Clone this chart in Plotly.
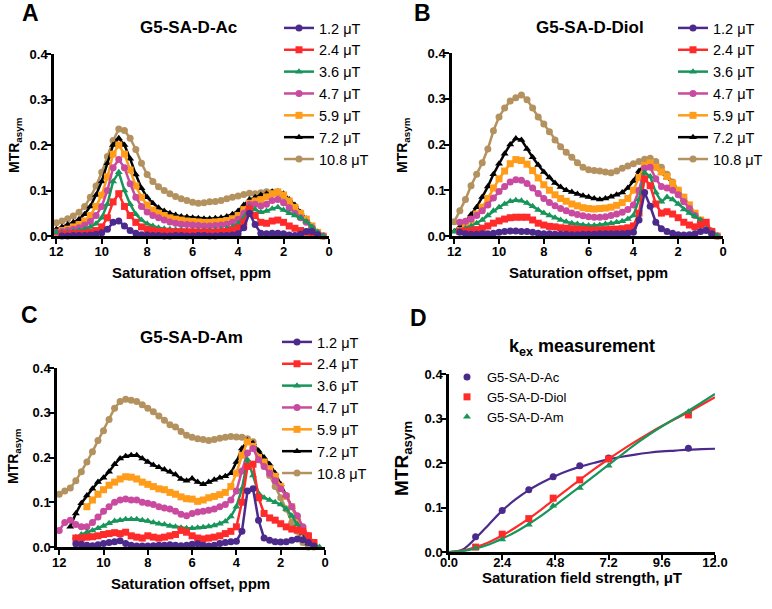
import plotly.graph_objects as go

W, H = 772, 609

offsets = [12.0, 11.75, 11.5, 11.25, 11.0, 10.75, 10.5, 10.25,
           10.0, 9.75, 9.5, 9.25, 9.0, 8.75, 8.5, 8.25,
           8.0, 7.75, 7.5, 7.25, 7.0, 6.75, 6.5, 6.25,
           6.0, 5.75, 5.5, 5.25, 5.0, 4.75, 4.5, 4.25,
           4.0, 3.75, 3.5, 3.25, 3.0, 2.75, 2.5, 2.25,
           2.0, 1.75, 1.5, 1.25, 1.0, 0.75, 0.5, 0.25]

field_labels = ["1.2 μT", "2.4 μT", "3.6 μT", "4.7 μT", "5.9 μT", "7.2 μT", "10.8 μT"]

# ---------------- Panel A: G5-SA-D-Ac ----------------
A_1p2 = [None, 0.000, 0.000, 0.001, 0.001, 0.001, 0.002, 0.004,
         0.007, 0.015, 0.030, 0.033, 0.022, 0.012, 0.006, 0.003,
         0.002, 0.001, 0.001, 0.000, 0.000, 0.001, 0.001, 0.000,
         0.000, 0.001, 0.001, 0.000, 0.000, 0.001, 0.001, 0.002,
         0.005, 0.018, 0.050, 0.025, 0.006, 0.005, 0.006, 0.006,
         0.005, 0.002, 0.001, 0.004, 0.010, 0.010, 0.003, None]
A_2p4 = [None, 0.004, 0.004, 0.005, 0.005, 0.006, 0.008, 0.012,
         0.020, 0.040, 0.075, 0.093, 0.065, 0.045, 0.030, 0.020,
         0.015, 0.012, 0.010, 0.010, 0.009, 0.009, 0.009, 0.009,
         0.009, 0.008, 0.008, 0.008, 0.008, 0.009, 0.010, 0.013,
         0.018, 0.030, 0.060, 0.045, 0.030, 0.028, 0.033, 0.035,
         0.030, 0.022, 0.017, 0.012, 0.008, 0.004, 0.001, None]
A_3p6 = [0.008, 0.008, 0.009, 0.010, 0.012, 0.015, 0.020, 0.027,
         0.040, 0.070, 0.120, 0.140, 0.100, 0.070, 0.048, 0.035,
         0.027, 0.022, 0.018, 0.016, 0.015, 0.014, 0.013, 0.012,
         0.012, 0.012, 0.012, 0.012, 0.013, 0.014, 0.016, 0.020,
         0.027, 0.040, 0.065, 0.058, 0.052, 0.055, 0.060, 0.063,
         0.057, 0.050, 0.045, 0.040, 0.032, 0.020, 0.008, 0.000]
A_4p7 = [0.008, 0.010, 0.012, 0.015, 0.018, 0.024, 0.032, 0.045,
         0.065, 0.100, 0.150, 0.168, 0.150, 0.115, 0.085, 0.065,
         0.053, 0.045, 0.040, 0.035, 0.031, 0.028, 0.026, 0.025,
         0.024, 0.023, 0.022, 0.022, 0.023, 0.024, 0.026, 0.030,
         0.037, 0.050, 0.070, 0.070, 0.066, 0.070, 0.078, 0.080,
         0.073, 0.062, 0.050, 0.040, 0.030, 0.018, 0.006, 0.000]
A_5p9 = [0.008, 0.012, 0.015, 0.020, 0.025, 0.033, 0.045, 0.065,
         0.090, 0.130, 0.180, 0.200, 0.180, 0.145, 0.110, 0.085,
         0.068, 0.057, 0.050, 0.045, 0.040, 0.037, 0.035, 0.033,
         0.032, 0.031, 0.030, 0.030, 0.031, 0.032, 0.034, 0.038,
         0.045, 0.058, 0.072, 0.077, 0.080, 0.086, 0.093, 0.097,
         0.090, 0.077, 0.063, 0.050, 0.037, 0.022, 0.008, 0.000]
A_7p2 = [0.015, 0.020, 0.025, 0.030, 0.037, 0.048, 0.065, 0.090,
         0.120, 0.160, 0.200, 0.215, 0.200, 0.170, 0.135, 0.105,
         0.085, 0.072, 0.062, 0.055, 0.050, 0.046, 0.043, 0.042,
         0.040, 0.039, 0.038, 0.038, 0.039, 0.040, 0.043, 0.048,
         0.055, 0.068, 0.080, 0.085, 0.090, 0.093, 0.097, 0.098,
         0.093, 0.080, 0.068, 0.052, 0.038, 0.022, 0.008, 0.000]
A_10p8 = [0.029, 0.033, 0.038, 0.044, 0.052, 0.065, 0.085, 0.110,
          0.140, 0.175, 0.210, 0.235, 0.232, 0.215, 0.190, 0.160,
          0.135, 0.120, 0.108, 0.100, 0.093, 0.087, 0.082, 0.078,
          0.074, 0.072, 0.073, 0.075, 0.076, 0.078, 0.082, 0.085,
          0.088, 0.091, 0.094, 0.093, 0.095, 0.097, 0.096, 0.094,
          0.086, 0.073, 0.060, 0.045, 0.032, 0.020, 0.008, 0.000]

# ---------------- Panel B: G5-SA-D-Diol ----------------
B_1p2 = [None, 0.008, 0.005, 0.004, 0.004, 0.005, 0.005, 0.006,
         0.008, 0.010, 0.011, 0.011, 0.010, 0.010, 0.008, 0.006,
         0.005, 0.005, 0.004, 0.004, 0.004, 0.003, 0.003, 0.004,
         0.004, 0.004, 0.005, 0.005, 0.005, 0.005, 0.005, 0.006,
         0.008, 0.035, 0.095, 0.065, 0.030, 0.016, 0.010, 0.006,
         0.003, 0.002, 0.003, 0.005, 0.010, 0.012, 0.005, None]
B_2p4 = [None, 0.010, 0.011, 0.012, 0.014, 0.017, 0.022, 0.028,
         0.033, 0.037, 0.040, 0.041, 0.041, 0.041, 0.035, 0.028,
         0.024, 0.021, 0.020, 0.018, 0.017, 0.016, 0.015, 0.014,
         0.013, 0.013, 0.013, 0.014, 0.015, 0.015, 0.016, 0.018,
         0.022, 0.050, 0.125, 0.110, 0.070, 0.050, 0.053, 0.048,
         0.040, 0.030, 0.024, 0.020, 0.025, 0.030, 0.010, None]
B_3p6 = [0.010, 0.013, 0.017, 0.022, 0.028, 0.035, 0.045, 0.055,
         0.063, 0.070, 0.076, 0.078, 0.077, 0.072, 0.065, 0.057,
         0.050, 0.045, 0.040, 0.035, 0.031, 0.028, 0.026, 0.024,
         0.023, 0.023, 0.024, 0.026, 0.028, 0.030, 0.032, 0.037,
         0.045, 0.080, 0.138, 0.130, 0.095, 0.075, 0.085, 0.080,
         0.070, 0.058, 0.050, 0.043, 0.035, 0.025, 0.012, 0.000]
B_4p7 = [None, 0.030, 0.032, 0.037, 0.045, 0.055, 0.068, 0.083,
         0.097, 0.108, 0.118, 0.123, 0.122, 0.115, 0.105, 0.093,
         0.082, 0.073, 0.066, 0.060, 0.055, 0.050, 0.047, 0.044,
         0.042, 0.041, 0.041, 0.042, 0.045, 0.048, 0.052, 0.058,
         0.068, 0.100, 0.148, 0.150, 0.125, 0.108, 0.105, 0.100,
         0.090, 0.075, 0.060, 0.045, 0.032, 0.020, 0.007, 0.000]
B_5p9 = [None, 0.012, 0.022, 0.035, 0.048, 0.063, 0.082, 0.105,
         0.125, 0.142, 0.158, 0.167, 0.165, 0.157, 0.143, 0.127,
         0.112, 0.100, 0.090, 0.082, 0.076, 0.070, 0.066, 0.062,
         0.060, 0.059, 0.060, 0.061, 0.063, 0.067, 0.073, 0.082,
         0.100, 0.128, 0.155, 0.160, 0.150, 0.140, 0.130, 0.115,
         0.100, 0.085, 0.068, 0.050, 0.035, 0.020, 0.007, 0.000]
B_7p2 = [0.010, 0.020, 0.032, 0.047, 0.063, 0.085, 0.108, 0.135,
         0.158, 0.180, 0.200, 0.213, 0.210, 0.190, 0.172, 0.155,
         0.140, 0.128, 0.116, 0.107, 0.100, 0.096, 0.092, 0.088,
         0.085, 0.082, 0.080, 0.082, 0.086, 0.090, 0.095, 0.105,
         0.120, 0.142, 0.155, 0.155, 0.148, 0.138, 0.128, 0.115,
         0.097, 0.080, 0.064, 0.047, 0.032, 0.018, 0.006, 0.000]
B_10p8 = [0.031, 0.055, 0.080, 0.110, 0.135, 0.160, 0.190, 0.230,
          0.260, 0.280, 0.295, 0.302, 0.308, 0.298, 0.280, 0.260,
          0.245, 0.228, 0.210, 0.195, 0.183, 0.172, 0.160, 0.150,
          0.145, 0.143, 0.142, 0.140, 0.138, 0.142, 0.148, 0.153,
          0.158, 0.163, 0.168, 0.170, 0.163, 0.150, 0.135, 0.118,
          0.100, 0.082, 0.065, 0.048, 0.032, 0.018, 0.006, 0.000]

# ---------------- Panel C: G5-SA-D-Am ----------------
C_1p2 = [None, None, None, 0.007, 0.006, 0.004, 0.003, 0.005,
         0.008, 0.010, 0.012, 0.014, 0.008, 0.004, 0.002, 0.002,
         0.002, 0.003, 0.004, 0.004, 0.005, 0.004, 0.003, 0.004,
         0.006, 0.007, 0.004, 0.002, 0.004, 0.008, 0.010, 0.012,
         0.013, 0.035, 0.125, 0.130, 0.060, 0.020, 0.015, 0.012,
         0.011, 0.012, 0.015, 0.018, 0.016, 0.010, 0.002, None]
C_2p4 = [None, None, None, 0.020, 0.020, 0.022, 0.023, 0.025,
         0.028, 0.030, 0.032, 0.030, 0.033, 0.025, 0.022, 0.020,
         0.025, 0.022, 0.020, 0.022, 0.025, 0.028, 0.037, 0.033,
         0.025, 0.020, 0.018, 0.020, 0.022, 0.025, 0.030, 0.035,
         0.045, 0.100, 0.180, 0.185, 0.110, 0.075, 0.065, 0.060,
         0.052, 0.045, 0.040, 0.038, 0.035, 0.025, 0.010, None]
C_3p6 = [None, None, None, 0.022, 0.028, 0.033, 0.037, 0.042,
         0.047, 0.053, 0.058, 0.060, 0.062, 0.062, 0.062, 0.060,
         0.058, 0.055, 0.052, 0.050, 0.047, 0.045, 0.043, 0.042,
         0.042, 0.043, 0.044, 0.046, 0.048, 0.052, 0.057, 0.068,
         0.090, 0.130, 0.195, 0.160, 0.120, 0.110, 0.105, 0.100,
         0.095, 0.085, 0.070, 0.050, 0.032, 0.015, 0.005, 0.000]
C_4p7 = [0.037, 0.055, 0.060, 0.050, 0.045, 0.045, 0.055, 0.067,
         0.080, 0.090, 0.100, 0.105, 0.107, 0.105, 0.105, 0.100,
         0.098, 0.095, 0.090, 0.087, 0.085, 0.080, 0.073, 0.070,
         0.075, 0.078, 0.080, 0.082, 0.085, 0.090, 0.095, 0.105,
         0.125, 0.170, 0.210, 0.220, 0.195, 0.180, 0.165, 0.148,
         0.130, 0.115, 0.090, 0.070, 0.045, 0.025, 0.005, None]
C_5p9 = [None, None, None, None, None, 0.090, 0.105, 0.118,
         0.128, 0.138, 0.145, 0.152, 0.157, 0.156, 0.152, 0.145,
         0.140, 0.135, 0.130, 0.128, 0.122, 0.118, 0.112, 0.108,
         0.107, 0.102, 0.105, 0.110, 0.113, 0.117, 0.122, 0.135,
         0.165, 0.205, 0.235, 0.225, 0.200, 0.190, 0.175, 0.158,
         0.135, 0.113, 0.090, 0.065, 0.040, 0.020, 0.005, None]
C_7p2 = [None, None, 0.045, 0.075, 0.098, 0.115, 0.130, 0.145,
         0.155, 0.168, 0.185, 0.198, 0.203, 0.205, 0.205, 0.198,
         0.190, 0.183, 0.178, 0.173, 0.168, 0.162, 0.152, 0.148,
         0.153, 0.145, 0.140, 0.145, 0.150, 0.155, 0.158, 0.165,
         0.190, 0.220, 0.238, 0.232, 0.215, 0.200, 0.185, 0.165,
         0.140, 0.115, 0.090, 0.065, 0.030, 0.008, 0.000, None]
C_10p8 = [0.118, 0.125, 0.132, 0.148, 0.168, 0.190, 0.213, 0.238,
          0.260, 0.285, 0.310, 0.325, 0.330, 0.328, 0.325, 0.318,
          0.310, 0.302, 0.293, 0.283, 0.273, 0.268, 0.258, 0.250,
          0.245, 0.242, 0.240, 0.238, 0.240, 0.243, 0.245, 0.247,
          0.246, 0.245, 0.242, 0.235, 0.205, 0.185, 0.160, 0.135,
          0.110, 0.085, 0.055, 0.035, 0.010, 0.000, 0.000, None]

# ---------------- Panel D: kex measurement ----------------
field_strength = [1.2, 2.4, 3.6, 4.7, 5.9, 7.2, 10.8]
D_ac = [0.034, 0.093, 0.140, 0.169, 0.194, 0.211, 0.233]
D_diol = [0.011, 0.040, 0.075, 0.121, 0.162, 0.209, 0.308]
D_am = [0.009, 0.028, 0.061, 0.104, 0.144, 0.194, 0.315]

fit_x = [0.0, 0.6, 1.2, 1.8, 2.4, 3.0, 3.6, 4.2, 4.8, 5.4, 6.0,
         6.6, 7.2, 7.8, 8.4, 9.0, 9.6, 10.2, 10.8, 11.4, 12.0]
fit_ac = [0.000, 0.005, 0.031, 0.062, 0.093, 0.118, 0.139, 0.156, 0.171, 0.183, 0.193,
          0.201, 0.208, 0.214, 0.219, 0.223, 0.226, 0.228, 0.230, 0.231, 0.232]
fit_diol = [0.000, 0.003, 0.011, 0.022, 0.037, 0.055, 0.075, 0.097, 0.120, 0.143, 0.166,
            0.188, 0.209, 0.229, 0.248, 0.266, 0.283, 0.299, 0.314, 0.331, 0.348]
fit_am = [0.000, 0.002, 0.008, 0.017, 0.030, 0.045, 0.063, 0.083, 0.105, 0.128, 0.150,
          0.173, 0.196, 0.219, 0.242, 0.263, 0.282, 0.300, 0.317, 0.336, 0.355]

# ---------------- styling ----------------
COLORS = ["#4B2A8C", "#FF2B2B", "#17955A", "#C94A9F", "#FF9C1A", "#000000", "#B3925F"]
SYMBOLS = ["circle", "square", "triangle-up", "circle", "square", "triangle-up", "circle"]
FONT = "Liberation Sans, Arial, sans-serif"

fig = go.Figure()

def px_dom_x(a, b):
    return [a / W, b / W]

def px_dom_y(top, bottom):
    return [1 - bottom / H, 1 - top / H]

panels = [
    ("x", "y", "legend", [A_1p2, A_2p4, A_3p6, A_4p7, A_5p9, A_7p2, A_10p8]),
    ("x2", "y2", "legend2", [B_1p2, B_2p4, B_3p6, B_4p7, B_5p9, B_7p2, B_10p8]),
    ("x3", "y3", "legend3", [C_1p2, C_2p4, C_3p6, C_4p7, C_5p9, C_7p2, C_10p8]),
]

for xa, ya, lg, series in panels:
    for i in reversed(range(7)):
        fig.add_trace(go.Scatter(
            x=offsets, y=series[i], mode="lines+markers", name=field_labels[i],
            line=dict(color=COLORS[i], width=2.5),
            marker=dict(symbol=SYMBOLS[i], size=7, color=COLORS[i]),
            xaxis=xa, yaxis=ya, legend=lg, cliponaxis=False, connectgaps=False))

d_names = ["G5-SA-D-Ac", "G5-SA-D-Diol", "G5-SA-D-Am"]
d_cols = ["#4B2A8C", "#FF2B2B", "#17955A"]
d_sym = ["circle", "square", "triangle-up"]
d_fits = [fit_ac, fit_diol, fit_am]
d_pts = [D_ac, D_diol, D_am]
for i in range(3):
    fig.add_trace(go.Scatter(x=fit_x, y=d_fits[i], mode="lines", line=dict(color=d_cols[i], width=2.2, shape="spline"),
                             showlegend=False, xaxis="x4", yaxis="y4", hoverinfo="skip"))
for i in range(3):
    fig.add_trace(go.Scatter(x=field_strength, y=d_pts[i], mode="markers", name=d_names[i],
                             marker=dict(symbol=d_sym[i], size=7, color=d_cols[i]),
                             xaxis="x4", yaxis="y4", legend="legend4", cliponaxis=False))

axis_common = dict(showline=True, linecolor="black", linewidth=2.5, ticks="outside", ticklen=5,
                   tickwidth=2, tickcolor="black", showgrid=False, zeroline=False, automargin=False,
                   tickfont=dict(family=FONT, size=13, color="black", weight="bold"))

ppm_ticks = [12, 10, 8, 6, 4, 2, 0]
yt = [0.0, 0.1, 0.2, 0.3, 0.4]
yt_txt = ["0.0", "0.1", "0.2", "0.3", "0.4"]

fig.update_layout(
    width=W, height=H, margin=dict(l=0, r=0, t=0, b=0, pad=0, autoexpand=False),
    paper_bgcolor="white", plot_bgcolor="white", showlegend=True,
    xaxis=dict(domain=px_dom_x(54, 329), range=[12.1, 0], tickvals=ppm_ticks, anchor="y",
               ticklabelstandoff=-3, **axis_common),
    yaxis=dict(domain=px_dom_y(54, 236), range=[0, 0.4], tickvals=yt, ticktext=yt_txt, anchor="x",
               ticklabelstandoff=-4, **axis_common),
    xaxis2=dict(domain=px_dom_x(452, 723), range=[12.1, 0], tickvals=ppm_ticks, anchor="y2",
                ticklabelstandoff=-3, **axis_common),
    yaxis2=dict(domain=px_dom_y(53, 236), range=[0, 0.4], tickvals=yt, ticktext=yt_txt, anchor="x2",
                ticklabelstandoff=-4, **axis_common),
    xaxis3=dict(domain=px_dom_x(57, 325), range=[12.1, 0], tickvals=ppm_ticks, anchor="y3",
                ticklabelstandoff=-3, **axis_common),
    yaxis3=dict(domain=px_dom_y(368, 547), range=[0, 0.4], tickvals=yt, ticktext=yt_txt, anchor="x3",
                ticklabelstandoff=-4, **axis_common),
    xaxis4=dict(domain=px_dom_x(449, 715), range=[0, 12], tickvals=[0, 2.4, 4.8, 7.2, 9.6, 12],
                ticktext=["0.0", "2.4", "4.8", "7.2", "9.6", "12.0"], anchor="y4",
                ticklabelstandoff=-8, **axis_common),
    yaxis4=dict(domain=px_dom_y(374, 552), range=[0, 0.4], tickvals=yt, ticktext=yt_txt, anchor="x4",
                ticklabelstandoff=-4, **axis_common),
)

leg_common = dict(font=dict(family=FONT, size=14.5, color="black"), bgcolor="rgba(0,0,0,0)",
                  borderwidth=0, traceorder="reversed", xanchor="left", yanchor="top",
                  itemclick=False, itemdoubleclick=False)
fig.update_layout(
    legend=dict(x=279 / W, y=1 - 12 / H, **leg_common),
    legend2=dict(x=673 / W, y=1 - 12 / H, **leg_common),
    legend3=dict(x=277 / W, y=1 - 326 / H, **leg_common),
    legend4=dict(x=447 / W, y=1 - 362 / H, font=dict(family=FONT, size=13, color="black"),
                 bgcolor="rgba(0,0,0,0)", xanchor="left", yanchor="top", traceorder="normal",
                 itemclick=False, itemdoubleclick=False),
)

def ann(text, x, y, size, angle=0, bold=True):
    fig.add_annotation(text=("<b>%s</b>" % text) if bold else text, x=x / W, y=1 - y / H,
                       xref="paper", yref="paper", showarrow=False, textangle=angle,
                       font=dict(family=FONT, size=size, color="black"),
                       xanchor="center", yanchor="middle")

# panel letters
ann("A", 31, 13, 23)
ann("B", 422, 13, 23)
ann("C", 29, 315, 23)
ann("D", 418, 318, 23)
# panel titles
ann("G5-SA-D-Ac", 188, 28, 17)
ann("G5-SA-D-Diol", 590, 28, 17)
ann("G5-SA-D-Am", 191, 337, 17)
ann("k<sub>ex</sub> measurement", 582, 347, 18)
# y titles
ann("MTR<sub>asym</sub>", 15, 145, 14, angle=-90)
ann("MTR<sub>asym</sub>", 403, 145, 14, angle=-90)
ann("MTR<sub>asym</sub>", 14, 456, 14, angle=-90)
ann("MTR<sub>asym</sub>", 403, 459, 19, angle=-90)
# x titles
ann("Saturation offset, ppm", 191, 272, 15)
ann("Saturation offset, ppm", 588, 272, 15)
ann("Saturation offset, ppm", 190, 583, 15)
ann("Saturation field strength, μT", 582, 577, 15)

fig.write_html("out.html", config={"displayModeBar": False},
               post_script="document.body.style.margin='0px';")
